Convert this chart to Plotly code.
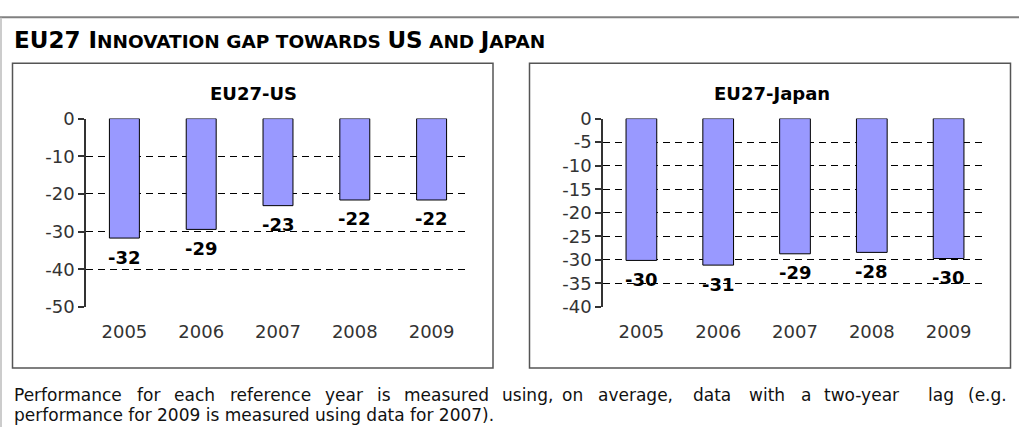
import plotly.graph_objects as go

# ---- data ----
years = ["2005", "2006", "2007", "2008", "2009"]
gap_us = [-31.7, -29.4, -23.1, -21.6, -21.6]
gap_us_labels = ["-32", "-29", "-23", "-22", "-22"]
gap_jp = [-30.1, -31.1, -28.7, -28.4, -29.7]
gap_jp_labels = ["-30", "-31", "-29", "-28", "-30"]
us_ticks = [0, -10, -20, -30, -40, -50]
us_ticktext = ["0", "-10", "-20", "-30", "-40", "-50"]
jp_ticks = [0, -5, -10, -15, -20, -25, -30, -35, -40]
jp_ticktext = ["0", "-5", "-10", "-15", "-20", "-25", "-30", "-35", "-40"]
boundaries = [-0.5, 0.5, 1.5, 2.5, 3.5, 4.5]

panel_titles = ["EU27-US", "EU27-Japan"]
note_line1 = "Performance for each reference year is measured using, on average, data with a two-year lag (e.g.".split(" ")
note_line1_x = [12, 135, 172, 228, 323, 375, 402, 500, 560, 596, 691, 747, 799, 822, 926, 966]
note_line2 = "performance for 2009 is measured using data for 2007)."

W, H = 1019, 437
FONT = "DejaVu Sans, Verdana, sans-serif"
BAR_FILL = "#9999FF"

def px(x):
    return x / W

def py(y):
    return 1 - y / H

fig = go.Figure()

fig.add_trace(go.Bar(x=years, y=gap_us, xaxis="x", yaxis="y", width=0.39,
                     marker=dict(color=BAR_FILL, line=dict(color="#000000", width=1)),
                     hoverinfo="skip", showlegend=False))
fig.add_trace(go.Bar(x=years, y=gap_jp, xaxis="x2", yaxis="y2", width=0.40,
                     marker=dict(color=BAR_FILL, line=dict(color="#000000", width=1)),
                     hoverinfo="skip", showlegend=False))

ydom = [py(311), py(113)]
dom1 = [px(86), px(470)]
dom2 = [px(603), px(987)]

tickfont = dict(family=FONT, size=18, color="#333333")

def xaxis_main(dom, anchor):
    return dict(domain=dom, anchor=anchor, type="category", categoryorder="array",
                categoryarray=years, range=[-0.5, 4.5], showgrid=False, zeroline=False,
                showline=False, ticks="outside", ticklen=8, tickcolor="rgba(0,0,0,0)",
                tickfont=tickfont, fixedrange=True)

def xaxis_top(overlay, anchor):
    return dict(overlaying=overlay, anchor=anchor, side="top", type="linear",
                range=[-0.5, 4.5], tickmode="array", tickvals=boundaries,
                showticklabels=False, ticks="outside", ticklen=5, tickwidth=1.5,
                tickcolor="#222222", showline=True, linecolor="#222222", linewidth=1.5,
                showgrid=False, zeroline=False, fixedrange=True)

def yaxis(dom, anchor, ticks, ticktext, rng):
    return dict(domain=dom, anchor=anchor, range=rng, tickmode="array", tickvals=ticks,
                ticktext=ticktext,
                showgrid=True, gridcolor="#000000", gridwidth=1, griddash="7px,5px",
                zeroline=False, showline=True, linecolor="#333333", linewidth=1.5,
                ticks="outside", ticklen=6, tickwidth=1.5, tickcolor="#333333",
                tickfont=tickfont, fixedrange=True)

fig.update_layout(
    width=W, height=H, margin=dict(l=0, r=0, t=0, b=0),
    paper_bgcolor="white", plot_bgcolor="rgba(0,0,0,0)",
    bargap=0.6,
    xaxis=xaxis_main(dom1, "y"),
    xaxis2=xaxis_main(dom2, "y2"),
    xaxis3=xaxis_top("x", "y"),
    xaxis4=xaxis_top("x2", "y2"),
    yaxis=yaxis(ydom, "x", us_ticks, us_ticktext, [-50, 0]),
    yaxis2=yaxis(ydom, "x2", jp_ticks, jp_ticktext, [-40, 0]),
    showlegend=False,
)

ann = []
# data labels (x given as category index)
for xr, yr, vals, labs in [("x", "y", gap_us, gap_us_labels), ("x2", "y2", gap_jp, gap_jp_labels)]:
    for i, (v, lab) in enumerate(zip(vals, labs)):
        ann.append(dict(x=i, y=v, xref=xr, yref=yr, text="<b>%s</b>" % lab, showarrow=False,
                        yshift=-19, yanchor="middle", xanchor="center",
                        font=dict(family=FONT, size=18, color="#000000")))

# panel titles
for t, cx in zip(panel_titles, [253, 772]):
    ann.append(dict(x=px(cx), y=py(87), xref="paper", yref="paper", text="<b>%s</b>" % t,
                    showarrow=False, xanchor="center", yanchor="middle",
                    font=dict(family=FONT, size=18, color="#000000")))

# main title (small caps imitation)
big = "font-size:23px"
small = "font-size:18.5px"
title = ("<b><span style='%s'>EU27 I</span><span style='%s'>NNOVATION GAP TOWARDS </span>"
         "<span style='%s'>US</span><span style='%s'> AND </span>"
         "<span style='%s'>J</span><span style='%s'>APAN</span></b>") % (big, small, big, small, big, small)
ann.append(dict(x=px(12), y=py(30), xref="paper", yref="paper", text=title, showarrow=False,
                xanchor="left", yanchor="middle", font=dict(family=FONT, size=18, color="#000000")))

# footnote
notefont = dict(family="DejaVu Sans, sans-serif", size=17, color="#111111")
for w, x in zip(note_line1, note_line1_x):
    ann.append(dict(x=px(x), y=py(403), xref="paper", yref="paper", text=w, showarrow=False,
                    xanchor="left", yanchor="middle", font=notefont))
ann.append(dict(x=px(12), y=py(424), xref="paper", yref="paper", text=note_line2, showarrow=False,
                xanchor="left", yanchor="middle", font=notefont))
fig.update_layout(annotations=ann)

shapes = [
    dict(type="line", xref="paper", yref="paper", x0=0, x1=1, y0=py(6.5), y1=py(6.5),
         line=dict(color="#808080", width=2)),
    dict(type="line", xref="paper", yref="paper", x0=px(1), x1=px(1), y0=py(7), y1=0,
         line=dict(color="#cccccc", width=2)),
    dict(type="rect", xref="paper", yref="paper", x0=px(12.5), x1=px(493), y0=py(55), y1=py(375),
         line=dict(color="#555555", width=1.5)),
    dict(type="rect", xref="paper", yref="paper", x0=px(529.5), x1=px(1010.5), y0=py(55), y1=py(375),
         line=dict(color="#555555", width=1.5)),
]
fig.update_layout(shapes=shapes)

post = ("document.documentElement.style.overflow='hidden';"
        "document.body.style.margin='0';document.body.style.overflow='hidden';"
        "var gd=document.getElementById('{plot_id}');"
        "gd.style.position='fixed';gd.style.top='0px';gd.style.left='0px';")
fig.write_html("out.html", config={"displayModeBar": False}, post_script=post)
